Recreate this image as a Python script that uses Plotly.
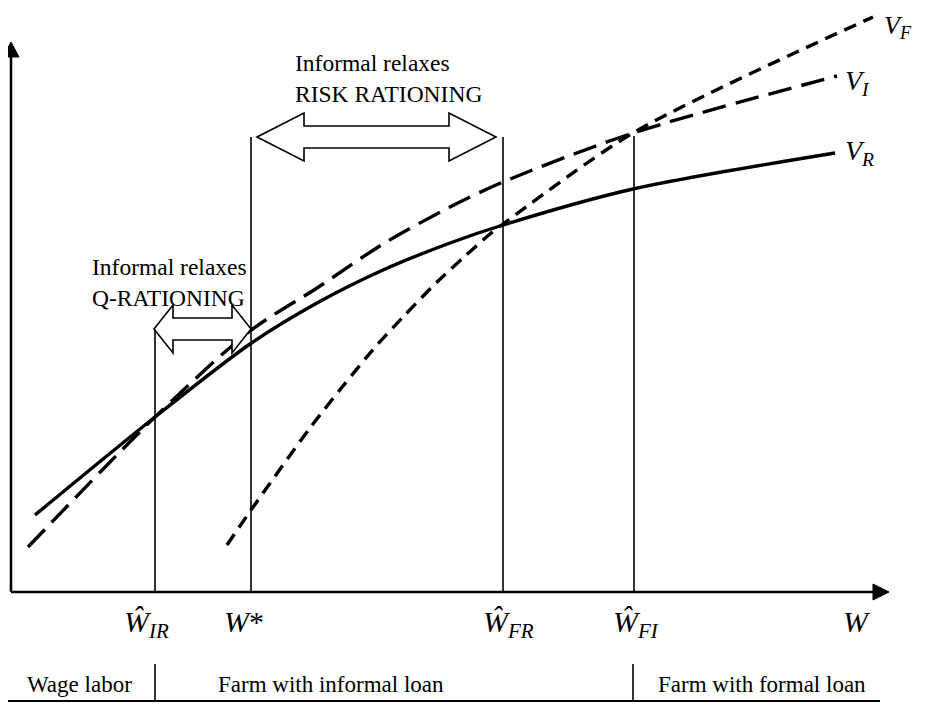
import plotly.graph_objects as go

# ---- data (heights above the W axis, W in chart units) ----
vr_w = [35, 155, 250, 317, 383, 450, 503, 633, 835]
vr_v = [77, 175, 248, 289, 322, 349, 367, 403, 439]

vi_w = [28, 155, 250, 317, 383, 450, 503, 633, 837]
vi_v = [45, 175, 261, 304, 348, 385, 410, 459, 516]

vf_w = [227, 251, 310, 343, 377, 403, 437, 463, 490, 503, 633, 873]
vf_v = [47, 82, 164, 206, 247, 275, 310, 334, 358, 368, 459, 575]

thresholds = [155, 251, 503, 634]
threshold_tops = [263, 455, 455, 456]
threshold_labels = ["<i>Ŵ<sub>IR</sub></i>", "<i>W</i>*", "<i>Ŵ<sub>FR</sub></i>", "<i>Ŵ<sub>FI</sub></i>"]

regime_bounds = [0, 155, 633, 880]
regime_labels = ["Wage labor", "Farm with informal loan", "Farm with formal loan"]
regime_label_x = [79, 331, 762]

FONT = "Liberation Serif"
fig = go.Figure()

fig.add_trace(go.Scatter(x=vr_w, y=vr_v, mode="lines",
                         line=dict(color="black", width=3.4, shape="spline", smoothing=0.8)))
fig.add_trace(go.Scatter(x=vi_w, y=vi_v, mode="lines",
                         line=dict(color="black", width=3.4, shape="spline", smoothing=0.8, dash="24px,10px")))
fig.add_trace(go.Scatter(x=vf_w, y=vf_v, mode="lines",
                         line=dict(color="black", width=3.4, shape="spline", smoothing=0.8, dash="13px,8px")))

shapes = []
# axes
shapes.append(dict(type="line", x0=11, y0=0, x1=11, y1=537, line=dict(color="black", width=2.5)))
shapes.append(dict(type="path", path="M 3 535 L 19 535 L 11 550 Z", fillcolor="black", line=dict(color="black", width=1)))
shapes.append(dict(type="line", x0=11, y0=0, x1=875, y1=0, line=dict(color="black", width=2.5)))
shapes.append(dict(type="path", path="M 873 8 L 873 -8 L 889 0 Z", fillcolor="black", line=dict(color="black", width=1)))

# threshold verticals
for xv, top in zip(thresholds, threshold_tops):
    shapes.append(dict(type="line", x0=xv, y0=0, x1=xv, y1=top, line=dict(color="black", width=1.6)))


def block_arrow(x0, x1, yc, hl, hh=24, sh=11):
    pts = [(x0, yc), (x0 + hl, yc + hh), (x0 + hl, yc + sh), (x1 - hl, yc + sh), (x1 - hl, yc + hh),
           (x1, yc), (x1 - hl, yc - hh), (x1 - hl, yc - sh), (x0 + hl, yc - sh), (x0 + hl, yc - hh)]
    p = "M " + " L ".join(f"{a} {b}" for a, b in pts) + " Z"
    return dict(type="path", path=p, fillcolor="white", line=dict(color="black", width=1.6))


shapes.append(block_arrow(257, 496, 455, 47))
shapes.append(block_arrow(154, 251, 263, 19))

# regime table
shapes.append(dict(type="line", x0=regime_bounds[0], y0=-109, x1=regime_bounds[-1], y1=-109,
                   line=dict(color="black", width=2)))
for xv in regime_bounds[1:-1]:
    shapes.append(dict(type="line", x0=xv, y0=-72, x1=xv, y1=-109, line=dict(color="black", width=1.6)))

annotations = []
label_left = [122, 222, 481, 611]
for xl, lab in zip(label_left, threshold_labels):
    annotations.append(dict(x=xl, y=-11, text=lab, showarrow=False,
                            xanchor="left", yanchor="top", font=dict(family=FONT, size=30, color="black")))
annotations.append(dict(x=841, y=-11, text="<i>W</i>", showarrow=False, xanchor="left", yanchor="top",
                        font=dict(family=FONT, size=30, color="black")))

for lab, xv, yv, sz in [("<i>V<sub>F</sub></i>", 883, 565, 26), ("<i>V<sub>I</sub></i>", 844, 510, 28),
                        ("<i>V<sub>R</sub></i>", 844, 440, 28)]:
    annotations.append(dict(x=xv, y=yv, text=lab, showarrow=False, xanchor="left", yanchor="middle",
                            borderpad=0, font=dict(family=FONT, size=sz, color="black")))

annotations.append(dict(x=293, y=514, text="Informal relaxes<br>RISK RATIONING", showarrow=False,
                        xanchor="left", yanchor="middle", align="left",
                        font=dict(family=FONT, size=23.5, color="black")))
annotations.append(dict(x=90, y=310, text="Informal relaxes<br>Q-RATIONING", showarrow=False,
                        xanchor="left", yanchor="middle", align="left",
                        font=dict(family=FONT, size=23.5, color="black")))

for xc, lab in zip(regime_label_x, regime_labels):
    annotations.append(dict(x=xc, y=-92, text=lab, showarrow=False, xanchor="center", yanchor="middle",
                            font=dict(family=FONT, size=23, color="black")))

# the page adds an 8px body margin, so the visible window starts 8px into the plot
fig.update_layout(
    width=932, height=713, margin=dict(l=0, r=0, t=0, b=0),
    paper_bgcolor="white", plot_bgcolor="white", showlegend=False,
    xaxis=dict(range=[8, 940], visible=False, fixedrange=True),
    yaxis=dict(range=[-129, 584], visible=False, fixedrange=True),
    shapes=shapes, annotations=annotations,
)

fig.write_html("out.html")
